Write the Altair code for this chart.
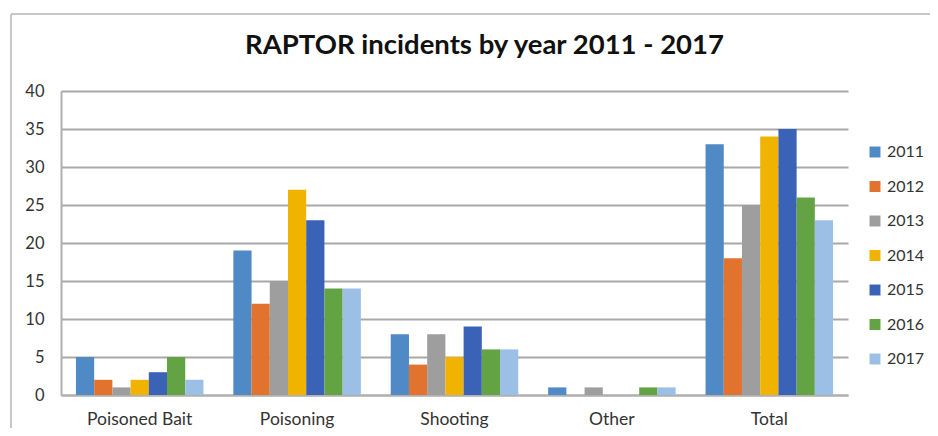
import altair as alt
import pandas as pd

categories = ["Poisoned Bait", "Poisoning", "Shooting", "Other", "Total"]
years = ["2011", "2012", "2013", "2014", "2015", "2016", "2017"]
v2011 = [5, 19, 8, 1, 33]
v2012 = [2, 12, 4, 0, 18]
v2013 = [1, 15, 8, 1, 25]
v2014 = [2, 27, 5, 0, 34]
v2015 = [3, 23, 9, 0, 35]
v2016 = [5, 14, 6, 1, 26]
v2017 = [2, 14, 6, 1, 23]
colors = ["#4F89C6", "#E2732F", "#9E9E9E", "#F0B400", "#3A62B6", "#63A344", "#9CBFE6"]

series = [v2011, v2012, v2013, v2014, v2015, v2016, v2017]
rows = []
for y, vals in zip(years, series):
    for c, v in zip(categories, vals):
        rows.append({"category": c, "year": y, "value": v})
df = pd.DataFrame(rows)

W, H = 787, 304
FONT = "Lato"

bars = alt.Chart(df).mark_bar().encode(
    x=alt.X("category:N", sort=categories, title=None,
            scale=alt.Scale(paddingInner=0.19, paddingOuter=0.095),
            axis=alt.Axis(labelAngle=0, labelFontSize=17.5, labelColor="#333333",
                          labelFont=FONT, labelPadding=15, ticks=False,
                          domainColor="#B0B0B0", domainWidth=2)),
    xOffset=alt.XOffset("year:N", sort=years, scale=alt.Scale(paddingInner=0, paddingOuter=0)),
    y=alt.Y("value:Q", title=None,
            scale=alt.Scale(domain=[0, 40], nice=False),
            axis=alt.Axis(values=[0, 5, 10, 15, 20, 25, 30, 35, 40], labelFontSize=16.5,
                          labelColor="#333333", labelFont=FONT, ticks=False,
                          labelPadding=17, gridColor="#A8A8A8", gridWidth=2,
                          domainColor="#B0B0B0", domainWidth=2)),
    color=alt.Color("year:N", sort=years,
                    scale=alt.Scale(domain=years, range=colors),
                    legend=alt.Legend(title=None, orient="none", legendX=806, legendY=53,
                                      symbolType="square", symbolSize=120,
                                      symbolStrokeWidth=0, labelFontSize=16,
                                      labelFont=FONT, labelColor="#333333",
                                      rowPadding=18.5, labelOffset=4)),
)

frame_top = alt.Chart(df).mark_rule(color="#C8C8C8", strokeWidth=2).encode(
    x=alt.value(-50), x2=alt.value(W + 140), y=alt.value(-77))
frame_left = alt.Chart(df).mark_rule(color="#C8C8C8", strokeWidth=2).encode(
    x=alt.value(-50), y=alt.value(-77), y2=alt.value(H + 60))

chart = alt.layer(frame_top, frame_left, bars).properties(
    width=W, height=H,
    title=alt.TitleParams("RAPTOR incidents by year 2011 - 2017", fontSize=27.5,
                          font=FONT, fontWeight="bold", color="#111111",
                          anchor="middle", dx=30, offset=0, dy=46),
    autosize=alt.AutoSizeParams(type="none"),
    padding={"left": 53, "top": 83, "right": 82, "bottom": 33},
).configure_view(stroke=None).configure_axis(grid=True).configure_axisX(grid=False)

chart.save("out.html", embed_options={"renderer": "svg", "actions": False})
